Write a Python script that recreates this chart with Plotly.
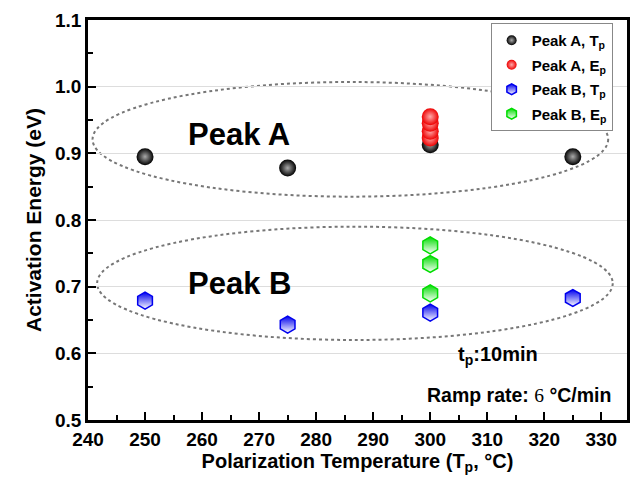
import plotly.graph_objects as go

# Data
peakA_tp_x = [250, 275, 300, 325]
peakA_tp_y = [0.895, 0.878, 0.913, 0.895]
peakA_ep_x = [300, 300, 300, 300]
peakA_ep_y = [0.923, 0.933, 0.945, 0.955]
peakB_tp_x = [250, 275, 300, 325]
peakB_tp_y = [0.679, 0.643, 0.661, 0.683]
peakB_ep_x = [300, 300, 300]
peakB_ep_y = [0.690, 0.734, 0.762]

x_ticks = [240, 250, 260, 270, 280, 290, 300, 310, 320, 330]
y_ticks = [0.5, 0.6, 0.7, 0.8, 0.9, 1.0, 1.1]

FONT = "Arial, 'Liberation Sans', sans-serif"

def sphere(color, center):
    return dict(symbol="circle", size=17, color=color,
                gradient=dict(type="radial", color=center),
                line=dict(width=0))

def hexa(color, size=17):
    return dict(symbol="hexagon", size=size, color=color,
                gradient=dict(type="vertical", color="white"),
                line=dict(color=color, width=1.5))

fig = go.Figure()

# legend-only entries (in legend order)
legend_defs = [
    ("<b>Peak A, T<sub>p</sub></b>", dict(sphere("black", "#aaaaaa"), size=10)),
    ("<b>Peak A, E<sub>p</sub></b>", dict(sphere("#ee0000", "#ffaaaa"), size=10)),
    ("<b>Peak B, T<sub>p</sub></b>", dict(hexa("#0000ee"), size=11)),
    ("<b>Peak B, E<sub>p</sub></b>", dict(hexa("#00dd00"), size=11)),
]
for i, (name, mk) in enumerate(legend_defs):
    fig.add_trace(go.Scatter(x=[None], y=[None], mode="markers", name=name,
                             marker=mk, showlegend=True, legendgroup=f"g{i}"))

# data traces
fig.add_trace(go.Scatter(x=peakA_tp_x, y=peakA_tp_y, mode="markers",
                         marker=sphere("black", "#aaaaaa"), showlegend=False))
fig.add_trace(go.Scatter(x=peakA_ep_x, y=peakA_ep_y, mode="markers",
                         marker=sphere("#ee0000", "#ffaaaa"), showlegend=False))
fig.add_trace(go.Scatter(x=peakB_ep_x, y=peakB_ep_y, mode="markers",
                         marker=hexa("#00dd00"), showlegend=False))
fig.add_trace(go.Scatter(x=peakB_tp_x, y=peakB_tp_y, mode="markers",
                         marker=hexa("#0000ee"), showlegend=False))

# dotted ellipses
fig.add_shape(type="circle", xref="x", yref="y", x0=240.8, x1=331.2, y0=0.835, y1=1.007,
              line=dict(color="#777777", width=2, dash="dot"), layer="below")
fig.add_shape(type="circle", xref="x", yref="y", x0=241.6, x1=332.0, y0=0.62, y1=0.79,
              line=dict(color="#777777", width=2, dash="dot"), layer="below")

# annotations
fig.add_annotation(x=266.5, y=0.928, xref="x", yref="y", text="<b>Peak A</b>",
                   showarrow=False, font=dict(size=31, color="black", family=FONT))
fig.add_annotation(x=266.5, y=0.705, xref="x", yref="y", text="<b>Peak B</b>",
                   showarrow=False, font=dict(size=31, color="black", family=FONT))
fig.add_annotation(x=311.8, y=0.597, xref="x", yref="y", text="<b>t<sub>p</sub>:10min</b>",
                   showarrow=False, font=dict(size=20, color="black", family=FONT))
fig.add_annotation(x=315.5, y=0.538, xref="x", yref="y",
                   text="<b>Ramp rate: </b><span style='font-family:\"Liberation Serif\", Times, serif'>6</span><b> °C/min</b>",
                   showarrow=False, font=dict(size=19.5, color="black", family=FONT))

fig.update_layout(
    width=636, height=480,
    margin=dict(l=88, r=6, t=20, b=60),
    paper_bgcolor="white", plot_bgcolor="white",
    font=dict(family=FONT, color="black"),
    legend=dict(x=0.747, y=0.9925, xanchor="left", yanchor="top",
                bgcolor="white", bordercolor="#888888", borderwidth=1,
                font=dict(size=15, family=FONT, color="black"),
                itemwidth=30, tracegroupgap=2),
    xaxis=dict(range=[240, 334.5], tickvals=x_ticks,
               ticktext=[f"<b>{v}</b>" for v in x_ticks],
               ticks="inside", ticklen=8, tickwidth=2, tickcolor="black",
               minor=dict(dtick=5, ticks="inside", ticklen=5, tickwidth=2, tickcolor="black"),
               showline=True, linewidth=2.5, linecolor="black", mirror=True,
               showgrid=False, zeroline=False,
               tickfont=dict(size=19, family=FONT, color="black"),
               title=dict(text="<b>Polarization Temperature (T<sub>p</sub>, °C)</b>",
                          font=dict(size=20, family=FONT, color="black"), standoff=4)),
    yaxis=dict(range=[0.5, 1.1], tickvals=y_ticks,
               ticktext=[f"<b>{v:.1f}</b>" for v in y_ticks],
               ticks="inside", ticklen=8, tickwidth=2, tickcolor="black",
               minor=dict(dtick=0.05, ticks="inside", ticklen=5, tickwidth=2, tickcolor="black",
                          showgrid=False),
               showline=True, linewidth=2.5, linecolor="black", mirror=True,
               showgrid=True, gridcolor="#dddddd", gridwidth=1, zeroline=False,
               tickfont=dict(size=19, family=FONT, color="black"),
               title=dict(text="<b>Activation Energy (eV)</b>",
                          font=dict(size=21, family=FONT, color="black"), standoff=8)),
)

fig.write_html("out.html")
